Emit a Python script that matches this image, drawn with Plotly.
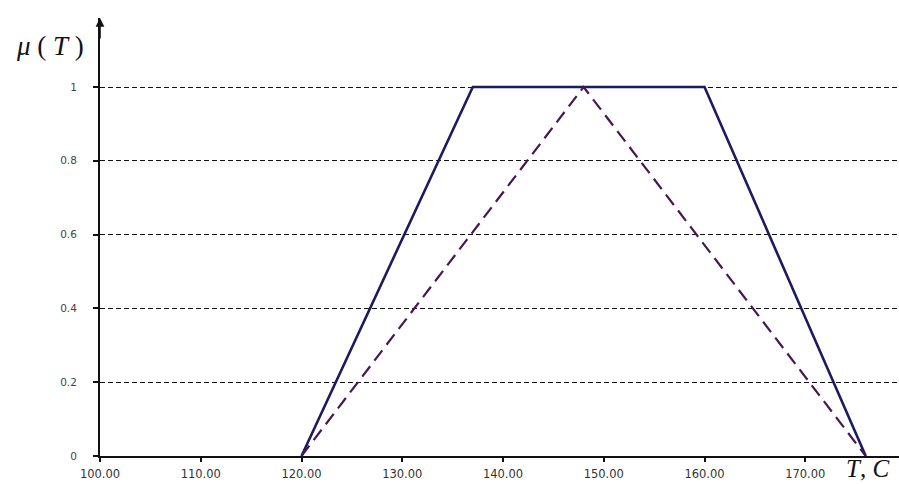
import plotly.graph_objects as go

# Temperature axis (T, °C) and membership values mu(T)
trap_T = [120, 137, 160, 176]
trap_mu = [0, 1, 1, 0]

tri_T = [120, 148, 176]
tri_mu = [0, 1, 0]

x_ticks = [100, 110, 120, 130, 140, 150, 160, 170]
y_ticks = [0, 0.2, 0.4, 0.6, 0.8, 1]

L, R, T, B = 100, 0, 18, 28
W, H = 899, 484

fig = go.Figure()

# Trapezoidal membership function (solid)
fig.add_trace(go.Scatter(
    x=trap_T, y=trap_mu, mode="lines",
    line=dict(color="#1d1b5e", width=2.6),
    cliponaxis=False, showlegend=False,
))

# Triangular membership function (dashed)
fig.add_trace(go.Scatter(
    x=tri_T, y=tri_mu, mode="lines",
    line=dict(color="#45184f", width=2.2, dash="13px,7px"),
    cliponaxis=False, showlegend=False,
))


def px_to_paper(px, py):
    return (px - L) / (W - L - R), (H - B - py) / (H - T - B)


mu_x, mu_y = px_to_paper(50, 46)
tc_x, tc_y = px_to_paper(867, 468)

fig.update_layout(
    width=W, height=H,
    margin=dict(l=L, r=R, t=T, b=B),
    paper_bgcolor="white", plot_bgcolor="white",
    xaxis=dict(
        range=[100, 179.3], tickvals=x_ticks, tickformat=".2f",
        showgrid=False, zeroline=False,
        showline=True, linecolor="#111", linewidth=2,
        ticks="outside", ticklen=4, tickwidth=1.5, tickcolor="#111",
        tickfont=dict(family="DejaVu Sans", size=11.5, color="#333"),
        ticklabelstandoff=2,
    ),
    yaxis=dict(
        range=[0, 1.187], tickvals=y_ticks,
        showgrid=True, gridcolor="#111", gridwidth=1.4, griddash="5px,3px",
        zeroline=False,
        showline=True, linecolor="#111", linewidth=2,
        ticks="outside", ticklen=5, tickwidth=1.5, tickcolor="#111",
        tickfont=dict(family="DejaVu Sans", size=10.5, color="#444"),
        ticklabelstandoff=14,
    ),
    annotations=[
        # arrow head on the vertical axis
        dict(x=100, y=1, xref="x", yref="paper", text="", showarrow=True,
             ax=0, ay=22, arrowhead=2, arrowsize=1.1, arrowwidth=1.6,
             arrowcolor="#111", standoff=0),
        # vertical axis title
        dict(x=mu_x, y=mu_y, xref="paper", yref="paper",
             xanchor="center", yanchor="middle",
             text="<i>μ</i> ( <i>T</i> )", showarrow=False,
             font=dict(family="Liberation Serif", size=27, color="#111")),
        # horizontal axis title
        dict(x=tc_x, y=tc_y, xref="paper", yref="paper",
             xanchor="center", yanchor="middle",
             text="<i>T</i>, <i>C</i>", showarrow=False,
             font=dict(family="Liberation Serif", size=25, color="#111")),
    ],
)

fig.write_html("out.html")
